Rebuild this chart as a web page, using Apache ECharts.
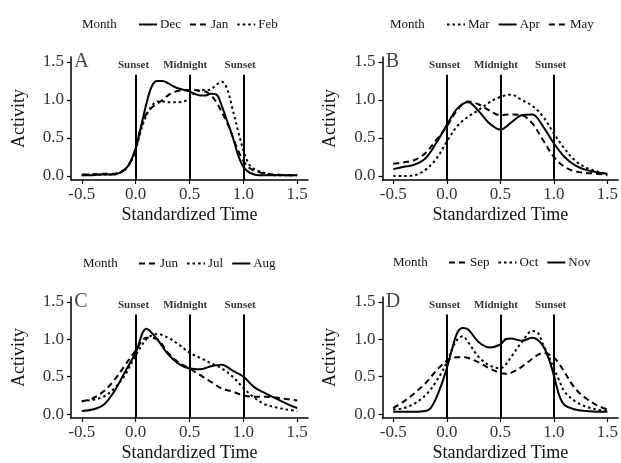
<!DOCTYPE html>
<html><head><meta charset="utf-8">
<script src="https://cdn.jsdelivr.net/npm/echarts@6/dist/echarts.min.js"></script>
<style>html,body{margin:0;padding:0;background:#fff}#c{width:621px;height:463px}</style>
</head><body><div id="c"></div>
<script>
// ---- data ----
const xTicks = [-0.5, 0, 0.5, 1.0, 1.5];
const yTicks = [0, 0.5, 1.0, 1.5];
const vLines = [0, 0.5, 1.0];
const annoX = [-0.02, 0.46, 0.97];
const annoText = ['Sunset', 'Midnight', 'Sunset'];
const panelLetters = ['A', 'B', 'C', 'D'];

const xA = [-0.5,-0.4,-0.3,-0.2,-0.15,-0.1,-0.05,0,0.05,0.1,0.15,0.2,0.25,0.3,0.35,0.4,0.45,0.5,0.55,0.6,0.65,0.7,0.75,0.8,0.85,0.9,0.95,1.0,1.05,1.1,1.15,1.2,1.3,1.4,1.5];
const dec = [0.01,0.01,0.02,0.02,0.04,0.08,0.18,0.36,0.65,0.95,1.18,1.25,1.25,1.22,1.18,1.15,1.13,1.11,1.08,1.06,1.06,1.08,1.07,0.92,0.72,0.52,0.28,0.12,0.05,0.02,0.01,0.01,0.01,0.01,0.01];
const jan = [0.02,0.02,0.03,0.03,0.05,0.09,0.18,0.36,0.65,0.82,0.9,0.95,1.0,1.06,1.1,1.12,1.13,1.13,1.13,1.12,1.11,1.06,0.97,0.84,0.7,0.52,0.34,0.2,0.11,0.07,0.05,0.03,0.02,0.01,0.01];
const feb = [0.01,0.02,0.02,0.02,0.04,0.08,0.17,0.34,0.6,0.8,0.92,0.98,0.98,0.97,0.97,0.97,0.98,1.02,1.1,1.13,1.13,1.14,1.2,1.24,1.14,0.88,0.6,0.34,0.16,0.09,0.06,0.04,0.01,0.01,0.01];

const xB = [-0.5,-0.4,-0.3,-0.2,-0.1,0,0.1,0.2,0.3,0.4,0.5,0.6,0.7,0.8,0.9,1.0,1.1,1.2,1.3,1.4,1.5];
const mar = [0.0,0.0,0.01,0.08,0.22,0.45,0.66,0.78,0.87,0.97,1.04,1.07,1.0,0.92,0.78,0.56,0.36,0.2,0.11,0.06,0.02];
const apr = [0.09,0.12,0.15,0.23,0.43,0.67,0.89,0.97,0.85,0.69,0.61,0.7,0.8,0.81,0.65,0.43,0.25,0.14,0.08,0.05,0.03];
const may = [0.16,0.18,0.21,0.3,0.47,0.65,0.87,0.98,0.94,0.86,0.8,0.81,0.8,0.69,0.47,0.25,0.12,0.06,0.04,0.03,0.01];

const xC = [-0.5,-0.4,-0.3,-0.2,-0.1,0,0.1,0.2,0.3,0.4,0.5,0.6,0.7,0.8,0.9,1.0,1.1,1.2,1.3,1.4,1.5];
const jun = [0.17,0.21,0.3,0.45,0.65,0.85,1.02,1.0,0.82,0.69,0.61,0.52,0.43,0.34,0.3,0.25,0.23,0.23,0.22,0.2,0.18];
const jul = [0.17,0.19,0.23,0.34,0.52,0.78,1.0,1.07,1.02,0.93,0.82,0.75,0.68,0.61,0.5,0.35,0.22,0.13,0.09,0.06,0.04];
const aug = [0.04,0.06,0.12,0.3,0.56,0.82,1.14,1.0,0.8,0.67,0.61,0.6,0.64,0.66,0.58,0.5,0.36,0.28,0.21,0.14,0.08];

const xD = [-0.5,-0.4,-0.3,-0.2,-0.15,-0.1,-0.05,0,0.05,0.1,0.15,0.2,0.3,0.4,0.5,0.55,0.6,0.7,0.8,0.85,0.9,0.95,1.0,1.05,1.1,1.2,1.3,1.4,1.5];
const sep = [0.08,0.17,0.28,0.41,0.49,0.58,0.65,0.71,0.75,0.76,0.76,0.75,0.69,0.61,0.55,0.54,0.55,0.63,0.74,0.79,0.82,0.8,0.76,0.67,0.56,0.34,0.21,0.12,0.06];
const oct = [0.06,0.08,0.14,0.25,0.33,0.43,0.55,0.69,0.87,1.0,1.04,0.96,0.76,0.65,0.61,0.66,0.76,0.96,1.11,1.09,0.93,0.78,0.61,0.45,0.3,0.17,0.1,0.06,0.04];
const nov = [0.03,0.03,0.03,0.04,0.08,0.21,0.39,0.61,0.87,1.09,1.15,1.13,0.96,0.89,0.93,1.0,1.01,0.98,1.02,0.99,0.91,0.75,0.52,0.25,0.12,0.06,0.04,0.03,0.03];

// ---- layout / styles ----
const FONT = "'Liberation Serif','Times New Roman',serif";
const panels = [
  {x: xA, series: [['Dec', dec, 'solid'], ['Jan', jan, 'dashed'], ['Feb', feb, 'dotted']], left: 71, top: 57, legendLeft: 133, legendTop: 16, monthLeft: 82},
  {x: xB, series: [['Mar', mar, 'dotted'], ['Apr', apr, 'solid'], ['May', may, 'dashed']], left: 382.5, top: 57, legendLeft: 441, legendTop: 16, monthLeft: 390},
  {x: xC, series: [['Jun', jun, 'dashed'], ['Jul', jul, 'dotted'], ['Aug', aug, 'solid']], left: 71, top: 297, legendLeft: 133, legendTop: 255, monthLeft: 83},
  {x: xD, series: [['Sep', sep, 'dashed'], ['Oct', oct, 'dotted'], ['Nov', nov, 'solid']], left: 382.5, top: 297, legendLeft: 443, legendTop: 254, monthLeft: 393}
];
const dashMap = {solid: 'solid', dashed: [6, 4], dotted: [2.5, 3]};
const Y_MIN = -0.053, Y_MAX = 1.565;

const grid = [], xAxis = [], yAxis = [], series = [], legend = [], graphic = [];
panels.forEach((p, i) => {
  grid.push({left: p.left, top: p.top, width: 237, height: 123});
  xAxis.push({
    type: 'value', gridIndex: i, min: -0.6, max: 1.6,
    name: 'Standardized Time', nameLocation: 'middle', nameGap: 26,
    nameTextStyle: {fontFamily: FONT, fontSize: 18, color: '#111'},
    axisLine: {onZero: false, lineStyle: {color: '#000', width: 1.5}},
    axisTick: {show: true, length: 4, lineStyle: {color: '#000', width: 1.2}, customValues: xTicks},
    axisLabel: {customValues: xTicks, formatter: v => v.toFixed(1), fontFamily: FONT, fontSize: 17, color: '#333', margin: 6},
    splitLine: {show: false}
  });
  yAxis.push({
    type: 'value', gridIndex: i, min: Y_MIN, max: Y_MAX,
    name: 'Activity', nameLocation: 'middle', nameGap: 43,
    nameTextStyle: {fontFamily: FONT, fontSize: 18, color: '#111'},
    axisLine: {show: true, onZero: false, lineStyle: {color: '#000', width: 1.5}},
    axisTick: {show: true, length: 4, lineStyle: {color: '#000', width: 1.2}, customValues: yTicks},
    axisLabel: {customValues: yTicks, formatter: v => v.toFixed(1), fontFamily: FONT, fontSize: 17, color: '#333', margin: 7},
    splitLine: {show: false}
  });
  p.series.forEach(([name, ys, type], k) => {
    const s = {
      name, type: 'line', xAxisIndex: i, yAxisIndex: i,
      data: p.x.map((x, j) => [x, ys[j]]),
      symbol: 'none', smooth: 0.35, z: 3,
      lineStyle: {color: '#000', width: 2, type: dashMap[type]},
      itemStyle: {color: '#000'}
    };
    if (k === 0) {
      s.markLine = {
        silent: true, symbol: 'none', animation: false,
        lineStyle: {color: '#000', width: 2, type: 'solid'},
        label: {show: false},
        data: vLines.map(v => [{coord: [v, Y_MIN]}, {coord: [v, 1.33]}])
      };
    }
    series.push(s);
  });
  // annotation labels
  series.push({
    type: 'scatter', xAxisIndex: i, yAxisIndex: i, symbolSize: 0, silent: true,
    data: annoX.map((x, j) => ({value: [x, 1.46], name: annoText[j]})),
    label: {show: true, position: 'inside', formatter: d => d.name, fontFamily: FONT, fontWeight: 'bold', fontSize: 11, color: '#000'}
  });
  series.push({
    type: 'scatter', xAxisIndex: i, yAxisIndex: i, symbolSize: 0, silent: true,
    data: [{value: [-0.57, 1.5], name: panelLetters[i]}],
    label: {show: true, position: 'inside', align: 'left', formatter: d => d.name, fontFamily: FONT, fontSize: 20, color: '#111'}
  });
  legend.push({
    data: p.series.map(s => s[0]), left: p.legendLeft, top: p.legendTop - 3,
    orient: 'horizontal', itemWidth: 18, itemHeight: 14, itemGap: 8, selectedMode: false,
    itemStyle: {color: 'rgba(0,0,0,0)', borderWidth: 0, opacity: 0},
    textStyle: {fontFamily: FONT, fontSize: 13, color: '#111', padding: [0, 0, 0, -2]}
  });
  graphic.push({
    type: 'text', left: p.monthLeft, top: p.legendTop + 2, silent: true,
    style: {text: 'Month', font: '13px ' + FONT, fill: '#111'}
  });
});

const chart = echarts.init(document.getElementById('c'), null, {renderer: 'canvas'});
chart.setOption({animation: false, backgroundColor: '#fff', grid, xAxis, yAxis, series, legend, graphic});
</script></body></html>
